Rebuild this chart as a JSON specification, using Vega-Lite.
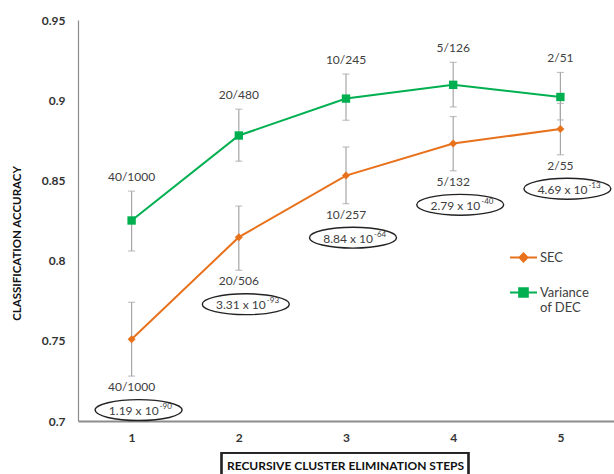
{
  "$schema": "https://vega.github.io/schema/vega-lite/v6.json",
  "width": 536,
  "height": 401,
  "autosize": {"type": "none"},
  "padding": {"left": 78, "top": 20, "right": 0, "bottom": 53},
  "background": "white",
  "config": {"view": {"stroke": null}, "font": "Lato"},
  "data": {
    "values": [
      {"step": "1", "series": "SEC", "acc": 0.751, "lo": 0.728, "hi": 0.774, "n": "40/1000", "mant": "1.19 x 10", "exp": "-90"},
      {"step": "2", "series": "SEC", "acc": 0.8146, "lo": 0.794, "hi": 0.834, "n": "20/506", "mant": "3.31 x 10", "exp": "-93"},
      {"step": "3", "series": "SEC", "acc": 0.853, "lo": 0.8355, "hi": 0.8708, "n": "10/257", "mant": "8.84 x 10", "exp": "-64"},
      {"step": "4", "series": "SEC", "acc": 0.873, "lo": 0.856, "hi": 0.8898, "n": "5/132", "mant": "2.79 x 10", "exp": "-40"},
      {"step": "5", "series": "SEC", "acc": 0.882, "lo": 0.866, "hi": 0.898, "n": "2/55", "mant": "4.69 x 10", "exp": "-13"},
      {"step": "1", "series": "Variance of DEC", "acc": 0.825, "lo": 0.806, "hi": 0.8433, "n": "40/1000"},
      {"step": "2", "series": "Variance of DEC", "acc": 0.878, "lo": 0.862, "hi": 0.8944, "n": "20/480"},
      {"step": "3", "series": "Variance of DEC", "acc": 0.901, "lo": 0.8875, "hi": 0.9163, "n": "10/245"},
      {"step": "4", "series": "Variance of DEC", "acc": 0.9096, "lo": 0.8958, "hi": 0.9236, "n": "5/126"},
      {"step": "5", "series": "Variance of DEC", "acc": 0.902, "lo": 0.8877, "hi": 0.9173, "n": "2/51"}
    ]
  },
  "encoding": {
    "x": {
      "field": "step",
      "type": "ordinal",
      "scale": {"type": "point", "padding": 0.5},
      "axis": {
        "labelAngle": 0,
        "labelFont": "Lato",
        "labelFontWeight": "bold",
        "labelFontSize": 12,
        "labelColor": "#333333",
        "labelPadding": 11,
        "ticks": false,
        "domainColor": "#8c8c8c",
        "domainWidth": 2,
        "title": "RECURSIVE CLUSTER ELIMINATION STEPS",
        "titleFont": "Lato",
        "titleFontWeight": "bold",
        "titleFontSize": 12,
        "titleColor": "#111111",
        "titleBaseline": "middle",
        "titleY": 44,
        "titleX": 267
      }
    }
  },
  "layer": [
    {
      "mark": {"type": "rule", "color": "#a6a6a6", "strokeWidth": 1.2},
      "encoding": {
        "y": {
          "field": "lo",
          "type": "quantitative",
          "scale": {"domain": [0.7, 0.95], "nice": false, "zero": false},
          "axis": {
            "values": [0.7, 0.75, 0.8, 0.85, 0.9, 0.95],
            "format": ".2~f",
            "grid": false,
            "ticks": false,
            "domainColor": "#8c8c8c",
            "domainWidth": 1.2,
            "labelFont": "Lato",
            "labelFontWeight": "bold",
            "labelFontSize": 12,
            "labelColor": "#333333",
            "labelPadding": 13,
            "title": "CLASSIFICATION ACCURACY",
            "titleFont": "Lato",
            "titleFontWeight": "bold",
            "titleFontSize": 11.5,
            "titleColor": "#111111",
            "titleAngle": -90,
            "titleBaseline": "middle",
            "titleAlign": "center",
            "titleX": -61,
            "titleY": 223
          }
        },
        "y2": {"field": "hi"}
      }
    },
    {
      "mark": {"type": "tick", "orient": "horizontal", "size": 7, "thickness": 1.2, "color": "#a6a6a6"},
      "encoding": {"y": {"field": "lo", "type": "quantitative"}}
    },
    {
      "mark": {"type": "tick", "orient": "horizontal", "size": 7, "thickness": 1.2, "color": "#a6a6a6"},
      "encoding": {"y": {"field": "hi", "type": "quantitative"}}
    },
    {
      "mark": {"type": "line", "strokeWidth": 2},
      "encoding": {
        "y": {"field": "acc", "type": "quantitative"},
        "color": {
          "field": "series",
          "type": "nominal",
          "scale": {"domain": ["SEC", "Variance of DEC"], "range": ["#E8711C", "#00B050"]},
          "legend": {
            "orient": "none",
            "legendX": 431,
            "legendY": 223,
            "title": null,
            "padding": 0,
            "symbolSize": 729,
            "symbolStrokeWidth": 2,
            "labelFont": "Lato",
            "labelFontSize": 13,
            "labelColor": "#404040",
            "labelOffset": 2,
            "rowPadding": 12,
            "labelExpr": "datum.label == 'Variance of DEC' ? ['Variance', 'of DEC'] : datum.label",
            "encode": {
              "symbols": {
                "update": {
                  "shape": {"signal": "datum.value == 'SEC' ? 'M-1,0L1,0M-0.3,0L0,-0.3L0.3,0L0,0.3Z' : 'M-1,0L1,0M-0.32,-0.32L0.32,-0.32L0.32,0.32L-0.32,0.32Z'"},
                  "fill": {"signal": "datum.value == 'SEC' ? '#E8711C' : '#00B050'"},
                  "stroke": {"signal": "datum.value == 'SEC' ? '#E8711C' : '#00B050'"},
                  "strokeWidth": {"value": 2}
                }
              }
            }
          }
        }
      }
    },
    {
      "transform": [{"filter": "datum.series == 'SEC'"}],
      "mark": {"type": "point", "shape": "diamond", "filled": true, "opacity": 1, "size": 64, "color": "#E8711C"},
      "encoding": {"y": {"field": "acc", "type": "quantitative"}}
    },
    {
      "transform": [{"filter": "datum.series == 'Variance of DEC'"}],
      "mark": {"type": "point", "shape": "square", "filled": true, "opacity": 1, "size": 70, "color": "#00B050"},
      "encoding": {"y": {"field": "acc", "type": "quantitative"}}
    },
    {
      "transform": [{"filter": "datum.series == 'Variance of DEC'"}],
      "mark": {"type": "text", "dy": -14, "fontSize": 12, "font": "Lato", "color": "#404040", "baseline": "middle"},
      "encoding": {
        "y": {"field": "hi", "type": "quantitative"},
        "text": {"field": "n"}
      }
    },
    {
      "transform": [{"filter": "datum.series == 'SEC'"}],
      "mark": {"type": "text", "dy": 11, "fontSize": 12, "font": "Lato", "color": "#404040", "baseline": "middle"},
      "encoding": {
        "y": {"field": "lo", "type": "quantitative"},
        "text": {"field": "n"}
      }
    },
    {
      "transform": [{"filter": "datum.series == 'SEC'"}],
      "mark": {
        "type": "point",
        "shape": "M-1,0A1,0.24,0,1,0,1,0A1,0.24,0,1,0,-1,0Z",
        "size": 7569,
        "filled": false,
        "stroke": "#222222",
        "strokeWidth": 1.4,
        "opacity": 1,
        "xOffset": 7,
        "yOffset": 34
      },
      "encoding": {"y": {"field": "lo", "type": "quantitative"}}
    },
    {
      "transform": [{"filter": "datum.series == 'SEC'"}],
      "mark": {"type": "text", "dx": 27, "dy": 35, "align": "right", "baseline": "middle", "fontSize": 12, "font": "Lato", "color": "#404040"},
      "encoding": {
        "y": {"field": "lo", "type": "quantitative"},
        "text": {"field": "mant"}
      }
    },
    {
      "transform": [{"filter": "datum.series == 'SEC'"}],
      "mark": {"type": "text", "dx": 28, "dy": 31, "align": "left", "baseline": "middle", "fontSize": 8, "font": "Lato", "color": "#404040"},
      "encoding": {
        "y": {"field": "lo", "type": "quantitative"},
        "text": {"field": "exp"}
      }
    },
    {
      "mark": {
        "type": "point",
        "shape": "M-1,-0.09L1,-0.09L1,0.09L-1,0.09Z",
        "size": 61009,
        "filled": false,
        "stroke": "#222222",
        "strokeWidth": 1.3,
        "opacity": 1,
        "xOffset": -1
      },
      "encoding": {
        "x": {"datum": "3"},
        "y": {"datum": 0.6733}
      }
    }
  ]
}
